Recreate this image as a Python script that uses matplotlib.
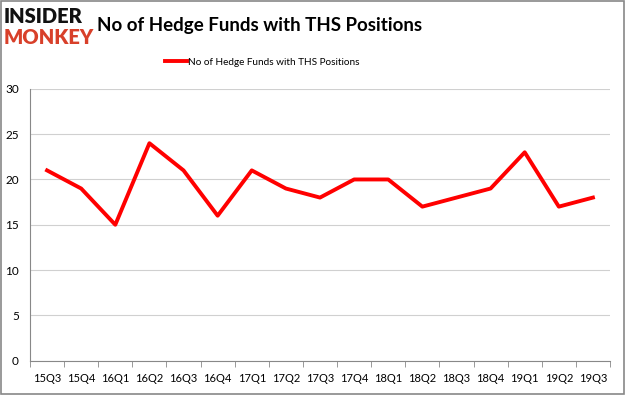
import matplotlib
matplotlib.use("Agg")
import matplotlib.pyplot as plt
from matplotlib.patches import Rectangle

quarters = ["15Q3", "15Q4", "16Q1", "16Q2", "16Q3", "16Q4", "17Q1", "17Q2", "17Q3",
            "17Q4", "18Q1", "18Q2", "18Q3", "18Q4", "19Q1", "19Q2", "19Q3"]
funds = [21, 19, 15, 24, 21, 16, 21, 19, 18, 20, 20, 17, 18, 19, 23, 17, 18]
y_ticks = [0, 5, 10, 15, 20, 25, 30]

plt.rcParams['font.family'] = ['Lato', 'DejaVu Sans']

fig = plt.figure(figsize=(6.25, 3.95), dpi=100)
ax = fig.add_axes([0.048, 0.087, 0.928, 0.688])

x = list(range(len(quarters)))
ax.plot(x, funds, color="#ff0000", linewidth=2.8, label="No of Hedge Funds with THS Positions")

ax.set_xlim(-0.5, len(quarters) - 0.5)
ax.set_ylim(0, 30)
ax.set_yticks(y_ticks)
ax.set_xticks(x)
ax.set_xticklabels(quarters, fontsize=8)
ax.set_xticks([i + 0.5 for i in range(-1, len(quarters))], minor=True)
ax.tick_params(axis="x", which="major", length=0, pad=9)
ax.tick_params(axis="x", which="minor", length=4, color="#888888")
ax.tick_params(axis="y", length=0, labelsize=8.5, pad=8)
ax.grid(axis="y", color="#d0d0d0", linewidth=0.8)
ax.set_axisbelow(True)
for s in ["top", "right"]:
    ax.spines[s].set_visible(False)
ax.spines["left"].set_color("#888888")
ax.spines["bottom"].set_color("#888888")

fig.text(0.416, 0.935, "No of Hedge Funds with THS Positions", ha="center", va="center",
         fontsize=13.5, fontweight="bold")
ax.legend(loc="center", bbox_to_anchor=(0.40, 1.098), frameon=False, fontsize=7.2,
          handlelength=2.2, handletextpad=0.15)

# logo
fig.text(0.006, 0.982, "INSIDER", fontsize=14.5, fontweight="heavy", color="#111111",
         va="top", ha="left")
fig.text(0.006, 0.928, "MONKEY", fontsize=14.5, fontweight="heavy", color="#d8402a",
         va="top", ha="left")

fig.patches.append(Rectangle((0.001, 0.002), 0.997, 0.995, transform=fig.transFigure,
                             fill=False, edgecolor="#888888", linewidth=1.2))

fig.savefig("out.png", dpi=100)
